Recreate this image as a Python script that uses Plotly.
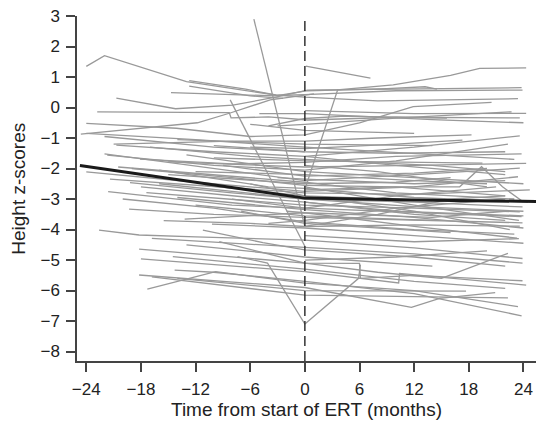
import plotly.graph_objects as go

# Individual patient height z-score trajectories: (months from ERT start, z-score) pairs
patients = [
    [(-24, 1.35), (-22, 1.7), (-13, 0.85), (-3, 0.4), (0, 0.42), (10, 0.55), (23.9, 0.57)],
    [(-12.7, 0.88), (-6.5, 0.6), (-3.2, 0.41), (0, 0.34), (8, 0.22), (23.4, 0.29)],
    [(-12.7, 0.7), (-6, 0.38), (-2.4, 0.3)],
    [(-14.7, 0.49), (-3.2, 0.38), (0.3, 0.55), (9, 0.62), (13.2, 0.68), (14.5, 0.6)],
    [(-20.7, 0.31), (-14.2, -0.04), (-7.9, 0.08), (-3.2, 0.34), (0.3, 0.57), (12, 0.6), (23.8, 0.65)],
    [(-22.8, -0.14), (-8.3, -0.17), (-8.1, -0.34), (-4, -0.31), (0.3, -0.41), (10, -0.32), (23.6, -0.34)],
    [(-24.6, -0.87), (-11.8, -0.5), (-8.2, -0.18), (-3.8, 0.25), (1, 0.45)],
    [(0.1, 1.36), (7.2, 0.96)],
    [(-5.6, 2.9), (0, -3.9)],
    [(-24, -0.52), (-14.1, -0.68), (-6, -0.95), (0, -0.9), (6, -0.5), (11.9, 0.03), (20.5, 0.17)],
    [(-8.2, 0.25), (0, -4.55)],
    [(0.1, -2.6), (3.6, 0.58), (9.7, 0.74), (16, 1.05), (19.2, 1.28), (24.3, 1.3)],
    [(0, -0.1), (12, -0.2), (24.3, -0.19)],
    [(-3, -0.6), (0, -0.55), (10, -0.35), (22.7, -0.14)],
    [(-4, -0.6), (0, -0.36), (4.4, -0.28), (15.6, -0.35)],
    [(-20.7, -1.23), (-10, -1.45), (0, -1.6), (12, -1.3), (23.6, -0.93)],
    [(-21.7, -1.56), (-10, -1.9), (0, -2.05), (10, -1.75), (22.3, -1.2)],
    [(-18.1, -1.69), (-8, -1.85), (0, -1.8), (10, -1.6), (23.8, -1.52)],
    [(-15, -1.78), (0, -1.95), (12, -1.9), (24.3, -1.83)],
    [(-22, -1.52), (-10, -2.0), (0, -2.4), (12, -2.2), (23.6, -1.99)],
    [(-21, -1.2), (-8, -1.1), (0, -1.1), (8, -1.0), (18.3, -0.9)],
    [(-6, -1.3), (0, -1.35), (10, -1.2), (17.3, -1.07)],
    [(-14, -1.05), (0, -1.2), (14, -1.25)],
    [(-10, -1.65), (0, -1.75), (19.5, -1.82)],
    [(-24, -2.11), (-12, -2.45), (0, -2.75), (12, -2.6), (23.4, -2.27)],
    [(-21.4, -2.35), (-10, -2.6), (0, -2.8), (12, -2.85), (24.7, -2.7)],
    [(-19.2, -2.46), (-8, -2.8), (0, -3.0), (12, -3.1), (23.9, -3.26)],
    [(-17.4, -2.79), (-6, -3.05), (0, -3.2), (12, -3.3), (23.6, -3.42)],
    [(-21.6, -2.76), (-8, -3.2), (0, -3.3), (12, -3.45), (23.8, -3.58)],
    [(-15, -2.2), (0, -2.5), (10, -2.45), (16, -2.3)],
    [(0, -2.7), (10, -2.6), (17, -2.6), (19.4, -1.94), (21.7, -2.6), (24, -3.1)],
    [(-12, -2.1), (0, -2.2), (12, -2.4), (20, -2.5)],
    [(-19.3, -3.33), (-10, -3.5), (0, -3.6), (12, -3.7), (23.9, -3.78)],
    [(-15.5, -3.71), (-6, -3.8), (0, -3.9), (12, -3.85), (23.6, -3.89)],
    [(-13.2, -3.66), (0, -3.45), (12, -3.9), (23.3, -4.28)],
    [(-10.2, -3.82), (0, -3.95), (12, -4.2), (24, -4.45)],
    [(-22.6, -4.02), (-18.2, -4.18), (-12, -4.24), (0, -4.35), (12, -4.6), (23.9, -4.95)],
    [(-16.8, -4.29), (0, -4.6), (12, -4.8), (23.9, -5.1)],
    [(-18.2, -4.64), (0, -5.1), (6, -5.11), (6.1, -5.6), (12, -5.5), (23.9, -5.68)],
    [(-18, -4.96), (0, -5.38), (10.3, -5.75), (10.4, -5.44), (24.3, -5.82)],
    [(-14.5, -4.89), (0, -5.3), (12, -5.7), (22, -5.93)],
    [(-11.2, -4.02), (-4.6, -4.43), (0, -4.67), (12, -4.9), (22, -5.2)],
    [(-9.4, -4.4), (0, -5.1), (8, -5.4), (15, -5.6), (22.3, -4.78)],
    [(-7.4, -4.89), (-4.1, -5.1), (0, -7.1), (5.9, -5.6), (6.1, -5.15)],
    [(-18.2, -5.49), (0, -5.9), (11.7, -6.55), (14.8, -6.26), (20.9, -6.07)],
    [(-14.3, -5.33), (-10, -5.4), (0, -5.7), (12, -6.1), (23.8, -6.83)],
    [(-17.3, -5.95), (-9.8, -5.38), (0, -5.76), (12, -6.0), (23.4, -6.53)],
    [(-16.8, -5.55), (-3.2, -6.04), (0, -6.15), (12, -6.2), (22.3, -6.24)],
    [(-14, -5.6), (0, -6.0), (17.7, -6.02)],
    [(-3, -2.3), (0, -2.35), (12, -2.5), (22, -2.4)],
    [(0, -3.1), (10, -3.4), (24, -3.55)],
    [(-2, -3.4), (0, -3.45), (14, -3.6), (22, -3.4)],
    [(0, -2.6), (12, -3.2), (23.5, -3.7)],
    [(-6, -2.5), (0, -2.9), (12, -3.4), (22.5, -4.0)],
    [(0, -4.2), (12, -4.4), (23.5, -4.3)],
    [(-4, -3.8), (0, -3.7), (10, -3.3), (22, -3.0)],
    [(0, -1.9), (8, -2.1), (20, -2.6)],
    [(-8, -3.0), (0, -3.3), (10, -2.9), (21, -2.6)],
    [(0, -5.0), (10, -4.9), (20, -4.7)],
    [(-24, -0.85), (-12, -1.05), (0, -1.3), (12, -1.5), (23, -1.7)],
    [(-19, -2.0), (-8, -2.3), (0, -2.55), (10, -2.6), (22, -2.9)],
    [(-16, -2.5), (0, -3.0), (12, -3.25), (24, -3.4)],
    [(-12, -3.2), (0, -3.55), (14, -3.7)],
    [(-20, -3.0), (-10, -3.3), (0, -3.75), (12, -4.0), (23, -4.15)],
    [(-6, -0.55), (0, -0.75), (12, -0.85)],
    [(-10, -1.25), (0, -1.45), (10, -1.5), (22, -1.45)],
    [(-17, -1.3), (-6, -1.6), (0, -1.7), (14, -1.9), (22, -2.1)],
    [(-13, -1.55), (0, -2.1), (12, -2.3), (24, -2.5)],
    [(-20.5, -1.95), (-10, -2.2), (0, -2.45), (10, -2.8), (23, -3.0)],
    [(-16, -2.05), (-4, -2.6), (0, -2.65), (12, -2.95), (24.5, -3.1)],
    [(-18, -2.6), (-6, -2.95), (0, -3.1), (12, -3.5), (22, -3.7)],
    [(-11, -2.55), (0, -2.9), (14, -3.05)],
    [(-14, -2.95), (0, -3.35), (12, -3.6), (24, -3.95)],
    [(-9, -1.9), (0, -2.25), (12, -2.15), (20, -2.0)],
    [(-7, -3.4), (0, -3.8), (16, -4.1)],
    [(-13, -4.5), (0, -4.9), (14, -5.2)],
    [(0, -1.6), (10, -1.9), (22, -2.2)],
    [(0, -3.9), (8, -3.5), (16, -3.0), (22, -2.9)],
    [(-5, -0.2), (0, -0.2), (14, -0.4), (24, -0.5)],
    [(-22, -0.95), (-10, -1.3), (0, -1.45)],
]

# Mean trajectory across patients
mean_months = [-24.7, -12, -6, 0, 12, 25.4]
mean_z = [-1.9, -2.45, -2.72, -2.97, -3.03, -3.08]

x_ticks = [-24, -18, -12, -6, 0, 6, 12, 18, 24]
y_ticks = list(range(-8, 4))

X_RANGE = [-25.02, 25.38]
Y_RANGE = [-8.31, 3.0]

fig = go.Figure()

for path in patients:
    fig.add_trace(go.Scatter(
        x=[p[0] for p in path], y=[p[1] for p in path],
        mode="lines", line=dict(color="#999999", width=1.3),
        showlegend=False, hoverinfo="skip",
    ))

# ERT start marker
fig.add_trace(go.Scatter(
    x=[0, 0], y=Y_RANGE, mode="lines",
    line=dict(color="#333333", width=1.5, dash="10px,5px"),
    showlegend=False, hoverinfo="skip",
))

fig.add_trace(go.Scatter(
    x=mean_months, y=mean_z, mode="lines",
    line=dict(color="#1a1a1a", width=3),
    showlegend=False, hoverinfo="skip",
))

axis_common = dict(
    showline=True, linecolor="#444444", linewidth=1.5,
    ticks="outside", ticklen=9, tickwidth=1.5, tickcolor="#444444",
    showgrid=False, zeroline=False, ticklabelstandoff=3,
    tickfont=dict(family="Liberation Sans, Arial, sans-serif", size=17, color="#222222"),
)

fig.update_layout(
    width=536, height=424,
    margin=dict(l=77, r=0, t=16, b=63),
    paper_bgcolor="white", plot_bgcolor="white",
    xaxis=dict(range=X_RANGE, tickvals=x_ticks, **axis_common),
    yaxis=dict(range=Y_RANGE, tickvals=y_ticks, **axis_common),
    font=dict(family="Liberation Sans, Arial, sans-serif", color="#222222"),
    annotations=[
        dict(text="Time from start of ERT (months)", x=0.5, y=-0.142,
             xref="paper", yref="paper", showarrow=False,
             xanchor="center", yanchor="middle", font=dict(size=19)),
        dict(text="Height z-scores", x=-0.128, y=0.5,
             xref="paper", yref="paper", showarrow=False, textangle=-90,
             xanchor="center", yanchor="middle", font=dict(size=19)),
    ],
)

fig.write_html("out.html")
